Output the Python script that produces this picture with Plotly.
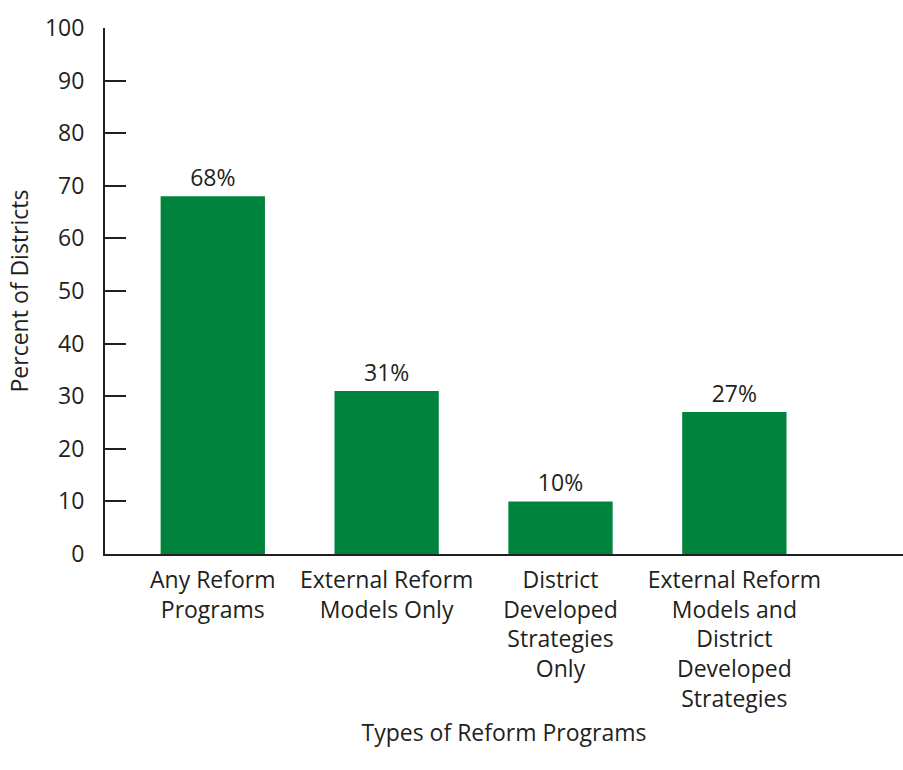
import plotly.graph_objects as go

categories = ["Any Reform<br>Programs", "External Reform<br>Models Only",
              "District<br>Developed<br>Strategies<br>Only",
              "External Reform<br>Models and<br>District<br>Developed<br>Strategies"]
values = [68, 31, 10, 27]
labels = ["68%", "31%", "10%", "27%"]
y_ticks = list(range(0, 101, 10))

font_family = "Open Sans"
text_color = "#231F20"
green = "#00843D"
fs = 23

fig = go.Figure(go.Bar(
    x=categories, y=values, text=labels, textposition="outside",
    textfont=dict(size=fs, color=text_color, family=font_family),
    marker=dict(color=green, line=dict(width=0)), width=0.6,
    cliponaxis=False,
))

fig.update_layout(
    width=903, height=770,
    margin=dict(l=105, r=0, t=28, b=216),
    plot_bgcolor="white", paper_bgcolor="white",
    font=dict(family=font_family, size=fs, color=text_color),
    showlegend=False,
    xaxis=dict(
        range=[-0.62, 3.97], showline=True, linecolor=text_color, linewidth=2,
        ticks="", showgrid=False, tickfont=dict(size=fs), ticklabelstandoff=4,
        title=dict(text="Types of Reform Programs", standoff=12, font=dict(size=fs)),
    ),
    yaxis=dict(
        range=[0, 100], tickvals=y_ticks, showline=True, linecolor=text_color,
        linewidth=2, ticks="inside", ticklen=21, tickwidth=2, tickcolor=text_color,
        showgrid=False, zeroline=False, ticklabelstandoff=14, tickfont=dict(size=fs),
        title=dict(text="Percent of Districts", standoff=10, font=dict(size=fs)),
    ),
)

fig.write_html("out.html")
